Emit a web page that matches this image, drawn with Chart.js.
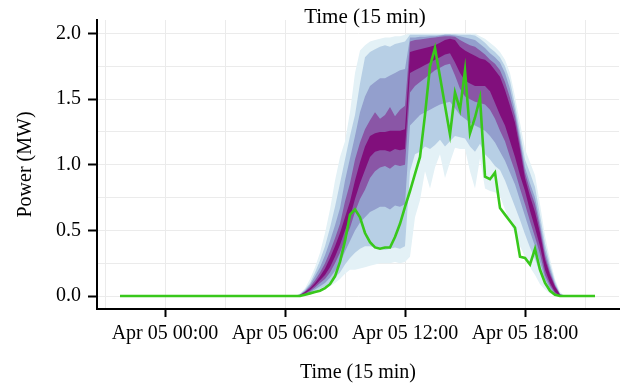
<!DOCTYPE html>
<html><head><meta charset="utf-8">
<script src="https://cdn.jsdelivr.net/npm/chart.js@4.4.0/dist/chart.umd.min.js"></script>
<style>html,body{margin:0;padding:0;background:#fff;}canvas{display:block;}</style>
</head><body>
<canvas id="c" width="623" height="384"></canvas>
<script>
// ---- data (hours relative to Apr 05 00:00) ----
const bandHours = [6.5,6.75,7,7.25,7.5,7.75,8,8.25,8.5,8.75,9,9.25,9.5,9.75,10,10.25,10.5,10.75,11,11.25,11.5,11.75,12,
  12.25,12.5,12.75,13,13.25,13.5,13.75,14,14.25,14.5,14.75,15,15.25,15.5,
  15.75,16,16.25,16.5,16.75,17,17.25,17.5,17.75,18,18.25,18.5,18.75,19,19.25,19.5,19.75,20];

const q95 = [0,0.02,0.06,0.13,0.22,0.33,0.48,0.66,0.88,1.06,1.18,1.4,1.7,1.87,1.91,1.94,1.95,1.96,1.97,1.97,1.98,1.98,1.99,
  2,2,2,2,2,2,2,2,2,2,2,2,2,2,
  1.98,1.96,1.93,1.9,1.86,1.8,1.7,1.52,1.32,1.12,1.02,0.92,0.7,0.46,0.28,0.13,0.03,0];
const q85 = [0,0.015,0.05,0.1,0.18,0.27,0.38,0.52,0.68,0.86,1.04,1.22,1.38,1.62,1.82,1.86,1.88,1.9,1.91,1.9,1.92,1.93,1.94,
  1.99,1.99,1.99,1.99,1.99,1.99,1.99,1.995,1.995,1.995,1.99,1.99,1.99,1.985,
  1.96,1.93,1.89,1.86,1.82,1.75,1.64,1.46,1.25,1.04,0.94,0.83,0.62,0.4,0.24,0.11,0.02,0];
const q75 = [0,0.012,0.04,0.085,0.15,0.22,0.31,0.42,0.54,0.67,0.88,1.05,1.22,1.4,1.52,1.6,1.63,1.66,1.66,1.68,1.7,1.72,1.73,
  1.97,1.97,1.975,1.975,1.98,1.98,1.985,1.99,1.99,1.985,1.98,1.97,1.96,1.95,
  1.92,1.89,1.85,1.82,1.78,1.7,1.58,1.41,1.2,0.98,0.86,0.75,0.56,0.35,0.21,0.09,0.015,0];
const q65 = [0,0.01,0.035,0.07,0.12,0.18,0.25,0.34,0.44,0.55,0.72,0.86,1.04,1.17,1.27,1.34,1.4,1.35,1.38,1.44,1.37,1.42,1.45,
  1.94,1.95,1.955,1.96,1.965,1.97,1.975,1.98,1.98,1.975,1.95,1.93,1.91,1.9,
  1.87,1.84,1.8,1.77,1.72,1.63,1.51,1.37,1.16,0.94,0.81,0.7,0.52,0.31,0.18,0.08,0.012,0];
const q55 = [0,0.008,0.03,0.06,0.1,0.15,0.21,0.29,0.38,0.48,0.6,0.72,0.88,1.02,1.14,1.22,1.24,1.25,1.25,1.26,1.26,1.26,1.27,
  1.86,1.87,1.88,1.89,1.9,1.91,1.93,1.95,1.96,1.95,1.9,1.87,1.85,1.83,
  1.81,1.8,1.77,1.72,1.67,1.57,1.45,1.32,1.12,0.9,0.76,0.64,0.48,0.28,0.16,0.07,0.01,0];
const q45 = [0,0.005,0.02,0.045,0.08,0.12,0.16,0.22,0.3,0.39,0.5,0.6,0.74,0.86,0.96,1.06,1.1,1.11,1.11,1.1,1.12,1.11,1.12,
  1.7,1.72,1.74,1.76,1.78,1.8,1.82,1.84,1.85,1.78,1.7,1.64,1.62,1.6,
  1.6,1.6,1.56,1.47,1.38,1.3,1.18,1.06,0.92,0.8,0.65,0.52,0.38,0.2,0.1,0.03,0,0];
const q35 = [0,0.003,0.015,0.035,0.065,0.1,0.13,0.18,0.25,0.33,0.43,0.52,0.64,0.74,0.81,0.9,0.95,0.98,0.99,0.97,1.0,0.99,1.0,
  1.55,1.6,1.63,1.66,1.69,1.72,1.74,1.76,1.77,1.68,1.58,1.52,1.5,1.48,
  1.47,1.46,1.42,1.35,1.26,1.18,1.06,0.95,0.82,0.7,0.57,0.45,0.32,0.16,0.08,0.02,0,0];
const q25 = [0,0.002,0.01,0.025,0.05,0.075,0.1,0.14,0.19,0.25,0.34,0.42,0.5,0.56,0.6,0.64,0.66,0.68,0.68,0.66,0.69,0.68,0.7,
  1.3,1.34,1.38,1.4,1.42,1.44,1.46,1.47,1.48,1.43,1.38,1.35,1.32,1.3,
  1.28,1.26,1.22,1.17,1.1,1.03,0.94,0.85,0.73,0.61,0.49,0.38,0.26,0.13,0.06,0.01,0,0];
const q15 = [0,0.001,0.006,0.016,0.035,0.055,0.075,0.1,0.14,0.18,0.24,0.29,0.33,0.36,0.38,0.38,0.37,0.36,0.35,0.36,0.37,0.36,0.38,
  0.95,1.08,1.1,1.14,1.12,1.15,1.19,1.14,1.18,1.22,1.21,1.2,1.14,1.1,
  1.16,1.08,1.04,0.99,0.96,0.88,0.78,0.68,0.58,0.47,0.37,0.28,0.18,0.09,0.04,0.005,0,0];
const q05 = [0,0,0.003,0.01,0.025,0.04,0.055,0.075,0.1,0.13,0.17,0.2,0.2,0.21,0.22,0.23,0.24,0.25,0.25,0.25,0.26,0.25,0.26,
  0.3,0.6,0.73,0.95,0.82,0.98,1.08,0.9,1.02,1.13,1.12,1.12,0.95,0.82,
  1.05,0.82,0.8,0.79,0.76,0.66,0.56,0.47,0.38,0.3,0.22,0.16,0.09,0.05,0.02,0,0,0];

const actualHours = [-2.25,-2,-1.75,-1.5,-1.25,-1,-0.75,-0.5,-0.25,
  0,0.25,0.5,0.75,1,1.25,1.5,1.75,2,2.25,2.5,2.75,3,3.25,3.5,3.75,4,4.25,4.5,4.75,5,5.25,5.5,5.75,6,6.25,6.5,
  6.75,7,7.25,7.5,7.75,8,8.25,8.5,8.75,9,9.25,9.5,9.75,10,10.25,10.5,10.75,11,11.25,11.5,11.75,12,
  12.25,12.5,12.75,13,13.25,13.5,13.75,14,14.25,14.5,14.75,15,15.25,15.5,15.75,16,16.25,16.5,16.75,17,
  17.25,17.5,17.75,18,18.25,18.5,18.75,19,19.25,19.5,19.75,
  20,20.25,20.5,20.75,21,21.25,21.5];
const actualMW = [0,0,0,0,0,0,0,0,0,
  0,0,0,0,0,0,0,0,0,0,0,0,0,0,0,0,0,0,0,0,0,0,0,0,0,0,0,
  0,0.01,0.02,0.03,0.04,0.06,0.09,0.15,0.26,0.42,0.62,0.66,0.6,0.48,0.41,0.37,0.36,0.37,0.37,0.45,0.55,0.68,
  0.8,0.93,1.06,1.38,1.75,1.89,1.67,1.45,1.23,1.55,1.42,1.72,1.24,1.36,1.51,0.91,0.89,0.94,0.67,0.62,
  0.57,0.52,0.3,0.29,0.24,0.36,0.2,0.1,0.04,0.01,0,
  0,0,0,0,0,0,0];

const xGridHours = [-3,0,3,6,9,12,15,18,21];
const xLabelHours = [0,6,12,18];
const xLabelText = ['Apr 05 00:00','Apr 05 06:00','Apr 05 12:00','Apr 05 18:00'];
const yGridValues = [0,0.25,0.5,0.75,1,1.25,1.5,1.75,2];
const yLabelValues = [0,0.5,1,1.5,2];

// ---- styling ----
const FONT = "'Liberation Serif', 'Times New Roman', serif";
Chart.defaults.font.family = FONT;
Chart.defaults.color = '#000';
const bandColors = ['#e3f1f6','#b7cfe5','#939fcd','#8a56a6','#810f7c']; // outer -> inner
const pts = (xs, ys) => xs.map((x, i) => ({x: x, y: ys[i]}));

const lineBase = {pointRadius: 0, borderWidth: 0, borderColor: 'rgba(0,0,0,0)', tension: 0};
// index: 0 actual, 1..5 upper (q55..q95) filled to lower partner, 6..10 lower (q45..q05)
const upper = [q55, q65, q75, q85, q95];
const lower = [q45, q35, q25, q15, q05];
const datasets = [{
  label: 'Actual', data: pts(actualHours, actualMW),
  borderColor: '#38c81b', borderWidth: 2.6, pointRadius: 0, tension: 0, fill: false
}];
upper.forEach((q, i) => {
  datasets.push(Object.assign({}, lineBase, {
    data: pts(bandHours, q), fill: 6 + i, backgroundColor: bandColors[4 - i]
  }));
});
lower.forEach((q) => {
  datasets.push(Object.assign({}, lineBase, {data: pts(bandHours, q), fill: false}));
});

const topTitle = {
  id: 'topTitle',
  afterDraw(chart) {
    const c = chart.ctx;
    c.save();
    c.font = '21px ' + FONT;
    c.fillStyle = '#000';
    c.textAlign = 'center';
    c.textBaseline = 'alphabetic';
    c.fillText('Time (15 min)', 365, 22.5);
    c.restore();
  }
};

new Chart(document.getElementById('c'), {
  type: 'line',
  data: {datasets: datasets},
  plugins: [topTitle],
  options: {
    responsive: false,
    animation: false,
    devicePixelRatio: 1,
    layout: {padding: {left: 0, right: 4, top: 20, bottom: 0}},
    plugins: {legend: {display: false}, tooltip: {enabled: false}},
    scales: {
      x: {
        type: 'linear', min: -3.4, max: 22.7,
        afterBuildTicks: s => { s.ticks = xGridHours.map(v => ({value: v})); },
        afterFit: s => { s.height = 75; },
        grid: {
          color: '#ebebeb', lineWidth: 1, drawTicks: true, tickLength: 8, tickWidth: 2,
          tickColor: ctx => (ctx.tick && xLabelHours.includes(ctx.tick.value)) ? '#000' : 'rgba(0,0,0,0)'
        },
        border: {display: true, color: '#000', width: 2},
        ticks: {
          autoSkip: false, maxRotation: 0, minRotation: 0, padding: 5, color: '#000',
          font: {family: FONT, size: 20},
          callback: v => { const i = xLabelHours.indexOf(v); return i >= 0 ? xLabelText[i] : ''; }
        },
        title: {display: true, text: 'Time (15 min)', color: '#000',
          font: {family: FONT, size: 20, lineHeight: 1}, padding: {top: 0, bottom: 1}}
      },
      y: {
        type: 'linear', min: -0.099, max: 2.103,
        afterBuildTicks: s => { s.ticks = yGridValues.map(v => ({value: v})); },
        afterFit: s => { s.width = 97; },
        grid: {
          color: '#ebebeb', lineWidth: 1, drawTicks: true, tickLength: 9, tickWidth: 2,
          tickColor: ctx => (ctx.tick && yLabelValues.includes(ctx.tick.value)) ? '#000' : 'rgba(0,0,0,0)'
        },
        border: {display: true, color: '#000', width: 2},
        ticks: {
          padding: 7, color: '#000', font: {family: FONT, size: 20},
          callback: v => yLabelValues.includes(v) ? v.toFixed(1) : ''
        },
        title: {display: true, text: 'Power (MW)', color: '#000',
          font: {family: FONT, size: 20, lineHeight: 1.2}, padding: {top: 14, bottom: 0}}
      }
    }
  }
});
</script>
</body></html>
